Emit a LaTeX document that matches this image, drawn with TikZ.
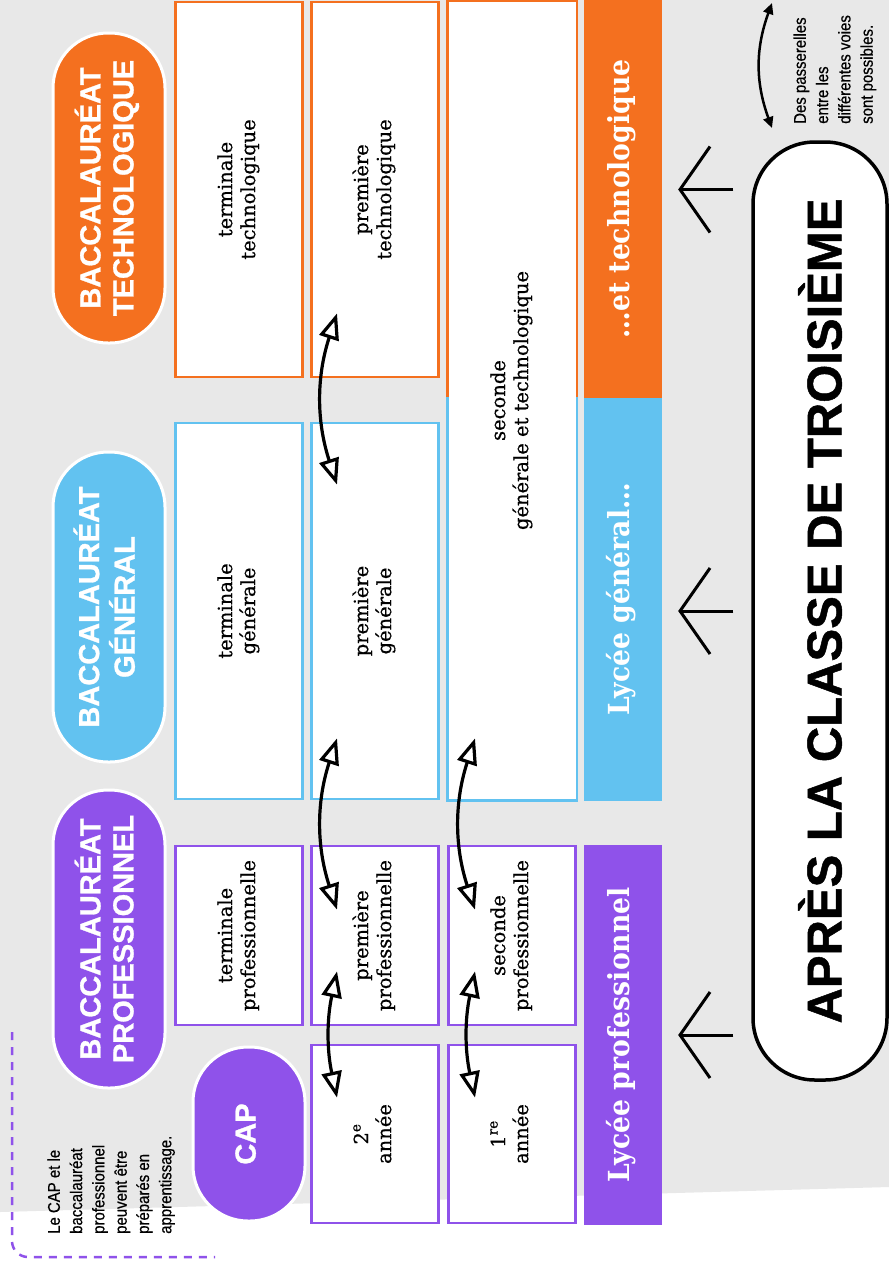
\documentclass[tikz,border=0pt]{standalone}
\usepackage{graphicx}
\usepackage{fontspec}
\setmainfont{DejaVu Serif}
\newfontfamily\classefont[FakeBold=0.7]{DejaVu Serif}
\newfontfamily\titrefont[FakeBold=1]{Liberation Sans}
\newfontfamily\notefont[FakeStretch=0.88,FakeBold=0.5]{Liberation Sans}
\newfontfamily\barfont[FakeStretch=0.92]{DejaVu Serif}
\usetikzlibrary{arrows.meta}
\usetikzlibrary{calc}

\definecolor{orangetech}{HTML}{F4701F}
\definecolor{bleugen}{HTML}{62C2F0}
\definecolor{violetpro}{HTML}{8F52EA}
\definecolor{fondgris}{HTML}{E8E8E8}

\newcommand{\vtxt}[2][c]{\rotatebox{90}{\begin{tabular}{@{}#1@{}}#2\end{tabular}}}

\tikzset{
  classe/.style={draw=#1, fill=white, line width=2.8pt, inner sep=0pt, minimum width=127pt, font=\classefont\fontsize{19.5}{23}\selectfont},
  bac/.style={fill=#1, draw=white, line width=3pt, rounded corners=55pt, minimum width=112pt, inner sep=0pt, text=white, font=\titrefont\bfseries\fontsize{29}{33}\selectfont},
  lycee/.style={fill=#1, inner sep=0pt, minimum width=78pt, text=white, font=\barfont\bfseries\fontsize{29}{33}\selectfont},
  passerelle/.style={line width=3.2pt, {Triangle[open,length=26pt,width=20pt]}-{Triangle[open,length=26pt,width=20pt]}},
  entree/.style={line width=3pt, -{Straight Barb[length=30pt,width=86pt]}},
  note/.style={inner sep=0pt, font=\notefont\fontsize{17}{22.3}\selectfont}
}

\begin{document}
\begin{tikzpicture}[x=1pt,y=-1pt]
    \useasboundingbox (0,0) rectangle (889,1270);
    \fill[white] (0,0) rectangle (889,1270);
    \fill[fondgris] (0,0) -- (889,0) -- (889,1187) -- (0,1212) -- cycle;

    % bandeaux des lycees
    \node[lycee=orangetech, minimum height=398pt] (bartech) at (623,199) {\vtxt{…et technologique}};
    \node[lycee=bleugen, minimum height=403pt] (bargen) at (623,599.5) {\vtxt{Lycée général…}};
    \node[lycee=violetpro, minimum height=380pt] (barpro) at (623,1035) {\vtxt{Lycée professionnel}};

    % classes
    \node[classe=orangetech, minimum height=375pt] (ttech) at (239,189.5) {\vtxt{terminale\\technologique}};
    \node[classe=orangetech, minimum height=375pt] (ptech) at (375,189.5) {\vtxt{première\\technologique}};
    \node[classe=bleugen, minimum height=376pt] (tgen) at (239,611) {\vtxt{terminale\\générale}};
    \node[classe=bleugen, minimum height=376pt] (pgen) at (375,611) {\vtxt{première\\générale}};
    \node[classe=white, minimum height=797pt] (sgt) at (512,400.5) {\vtxt{seconde\\générale et technologique}};
    \draw[orangetech, line width=2.8pt] (sgt.west |- 0,397) -- (sgt.north west) -- (sgt.north east) -- (sgt.east |- 0,397);
    \draw[bleugen, line width=2.8pt] (sgt.west |- 0,397) -- (sgt.south west) -- (sgt.south east) -- (sgt.east |- 0,397);

    \node[classe=violetpro, minimum height=179pt] (tpro) at (239,935.5) {\vtxt{terminale\\professionnelle}};
    \node[classe=violetpro, minimum height=179pt] (ppro) at (375,935.5) {\vtxt{première\\professionnelle}};
    \node[classe=violetpro, minimum height=179pt] (spro) at (512,935.5) {\vtxt{seconde\\professionnelle}};
    \node[classe=violetpro, minimum height=178pt] (cap2) at (375,1134) {\vtxt{2\textsuperscript{e}\\année}};
    \node[classe=violetpro, minimum height=178pt] (cap1) at (512,1134) {\vtxt{1\textsuperscript{re}\\année}};

    % diplomes
    \node[bac=orangetech, minimum height=310pt] (bactech) at (109,188) {\vtxt{BACCALAURÉAT\\TECHNOLOGIQUE}};
    \node[bac=bleugen, minimum height=310pt] (bacgen) at (109,607) {\vtxt{BACCALAURÉAT\\GÉNÉRAL}};
    \node[bac=violetpro, minimum height=298pt] (bacpro) at (109,939) {\vtxt{BACCALAURÉAT\\PROFESSIONNEL}};
    \node[bac=violetpro, minimum height=174pt] (cap) at (249,1134) {\vtxt{CAP}};

    \node[draw, line width=3.5pt, fill=white, rounded corners=62pt, minimum width=134pt, minimum height=938pt,
          font=\titrefont\bfseries\fontsize{49}{49}\selectfont] (apres) at (820,611) {\rotatebox{90}{APRÈS LA CLASSE DE TROISIÈME}};

    \draw[entree] ($(apres.west |- ttech)+(-18,0)$) -- ($(bartech.east |- ttech)+(16,0)$);
    \draw[entree] ($(apres.west |- tgen)+(-18,0)$) -- ($(bargen.east |- tgen)+(16,0)$);
    \draw[entree] ($(apres.west |- barpro)+(-18,0)$) -- ($(barpro.east)+(16,0)$);

    % passerelles
    \draw[passerelle] ($(ptech.south)+(-38,-65)$) to[bend right=18] ($(pgen.north)+(-38,63)$);
    \draw[passerelle] ($(pgen.south)+(-38,-62)$) to[bend right=18] ($(ppro.north)+(-38,65)$);
    \draw[passerelle] ($(ppro.south)+(-38,-55)$) to[bend right=12] ($(cap2.north)+(-38,54)$);
    \draw[passerelle] ($(sgt.south)+(-37,-62)$) to[bend right=18] ($(spro.north)+(-37,65)$);
    \draw[passerelle] ($(spro.south)+(-37,-55)$) to[bend right=12] ($(cap1.north)+(-37,54)$);

    % legendes
    \coordinate (leg1) at (772,3);
    \coordinate (leg2) at (772,128);
    \draw[line width=2.5pt, {Triangle[length=11pt,width=10pt]}-{Triangle[length=11pt,width=10pt]}] (leg1) to[bend right=20] (leg2);
    \node[note, anchor=south west] (passerelles) at (790,124) {\vtxt[l]{Des passerelles\\entre les\\différentes voies\\sont possibles.}};

    \node[note, anchor=south west] (apprent) at (44,1234) {\vtxt[l]{Le CAP et le\\baccalauréat\\professionnel\\peuvent être\\préparés en\\apprentissage.}};
    \draw[violetpro, line width=2.5pt, dash pattern=on 8pt off 7pt, rounded corners=16pt] (12,1032) |- (215,1257);
\end{tikzpicture}
\end{document}
